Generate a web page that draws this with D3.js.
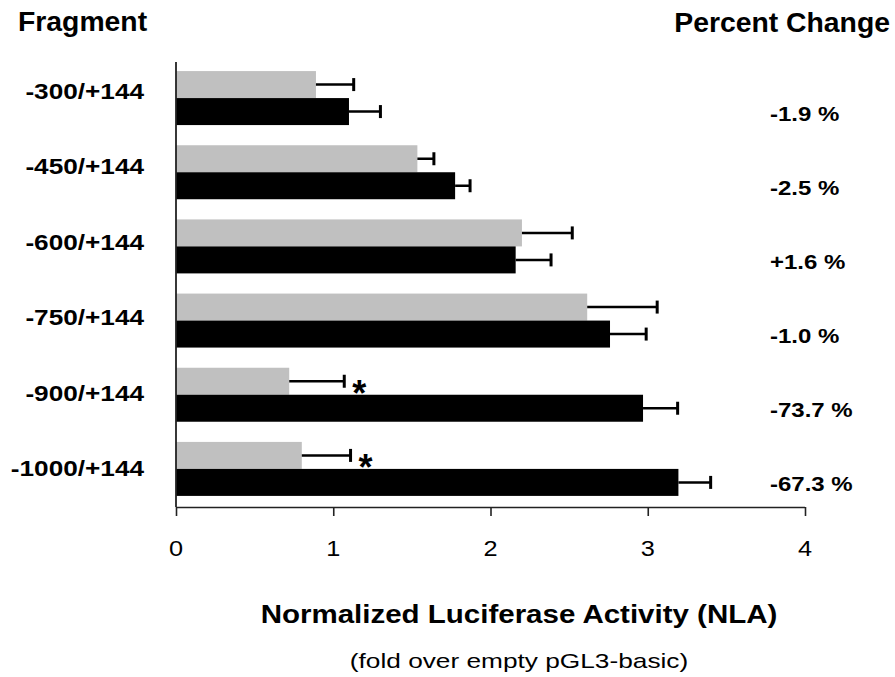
<!DOCTYPE html>
<html><head><meta charset="utf-8">
<script src="https://cdn.jsdelivr.net/npm/d3@7"></script>
<style>html,body{margin:0;padding:0;background:#fff;} svg{display:block;}</style>
</head><body>
<svg id="chart" width="895" height="677"></svg>
<script>
const fragments = ["-300/+144","-450/+144","-600/+144","-750/+144","-900/+144","-1000/+144"];
const grayValues = [0.89, 1.535, 2.20, 2.615, 0.72, 0.80];
const grayErrors = [0.24, 0.105, 0.32, 0.445, 0.35, 0.31];
const blackValues = [1.10, 1.775, 2.16, 2.76, 2.97, 3.195];
const blackErrors = [0.20, 0.095, 0.225, 0.23, 0.22, 0.205];
const percentChange = ["-1.9 %","-2.5 %","+1.6 %","-1.0 %","-73.7 %","-67.3 %"];
const significant = [false, false, false, false, true, true];
const xTicks = [0, 1, 2, 3, 4];

const svg = d3.select("#chart");
const FONT = "'Liberation Sans', Arial, sans-serif";

const x = d3.scaleLinear().domain([0, 4]).range([176, 805]);
const y = d3.scaleBand().domain(fragments).range([62, 507]).paddingInner(0.272).paddingOuter(0.136).align(0.45);
const sub = d3.scaleBand().domain(["gray","black"]).range([0, y.bandwidth()]);
const labelY = d3.scalePoint().domain(fragments).range([90.5, 468]);

function txt(g, px, py, s, o) {
  return g.append("text")
    .attr("transform", `translate(${px},${py}) scale(${o.sx||1},1)`)
    .attr("text-anchor", o.anchor || "start")
    .attr("font-family", FONT)
    .attr("font-size", o.size)
    .attr("font-weight", o.weight || "normal")
    .attr("fill", "#000")
    .text(s);
}

const rows = fragments.map((f, i) => ({f, i, g: grayValues[i], ge: grayErrors[i], b: blackValues[i], be: blackErrors[i], pc: percentChange[i], sig: significant[i]}));

// bars
const grp = svg.append("g");
grp.selectAll("rect.gray").data(rows).join("rect")
  .attr("x", x(0)).attr("y", d => y(d.f) + sub("gray"))
  .attr("width", d => x(d.g) - x(0)).attr("height", sub.bandwidth())
  .attr("fill", "#c0c0c0");
grp.selectAll("rect.black").data(rows).join("rect")
  .attr("x", x(0)).attr("y", d => y(d.f) + sub("black"))
  .attr("width", d => x(d.b) - x(0)).attr("height", sub.bandwidth())
  .attr("fill", "#000");

// error bars
function errBars(key, vKey, eKey) {
  const cy = d => y(d.f) + sub(key) + sub.bandwidth() / 2;
  grp.selectAll(null).data(rows).join("line")
    .attr("x1", d => x(d[vKey])).attr("x2", d => x(d[vKey] + d[eKey]))
    .attr("y1", cy).attr("y2", cy)
    .attr("stroke", "#000").attr("stroke-width", 2.5);
  grp.selectAll(null).data(rows).join("line")
    .attr("x1", d => x(d[vKey] + d[eKey])).attr("x2", d => x(d[vKey] + d[eKey]))
    .attr("y1", d => cy(d) - 6.5).attr("y2", d => cy(d) + 6.5)
    .attr("stroke", "#000").attr("stroke-width", 3);
}
errBars("gray", "g", "ge");
errBars("black", "b", "be");

// asterisks
rows.filter(d => d.sig).forEach(d => {
  txt(svg, x(d.g + d.ge) + 15, y(d.f) + sub("gray") + sub.bandwidth() / 2 + 25, "*", {size: 36, weight: "bold", anchor: "middle"});
});

// axes
const xAxis = d3.axisBottom(x).tickValues(xTicks).tickSize(9).tickFormat("");
const ax = svg.append("g").attr("transform", `translate(0,507)`).call(xAxis);
ax.select(".domain").attr("stroke", "#222").attr("stroke-width", 1.6).attr("d", `M${x(0)},0.5H${x(4)}`);
ax.selectAll(".tick line").attr("stroke", "#222").attr("stroke-width", 1.6);
xTicks.forEach(t => txt(svg, x(t), 556, String(t), {size: 22, anchor: "middle", sx: 1.15}));

svg.append("line").attr("x1", x(0)).attr("x2", x(0)).attr("y1", 62).attr("y2", 507)
  .attr("stroke", "#222").attr("stroke-width", 1.8);

// category labels
rows.forEach(d => {
  txt(svg, 144, labelY(d.f) + 8, d.f, {size: 22, weight: "bold", anchor: "end", sx: 1.19});
  txt(svg, 770, y(d.f) + sub("black") + sub.bandwidth() / 2 + 9, d.pc, {size: 20, weight: "bold", sx: 1.2});
});

// headers
txt(svg, 18, 31, "Fragment", {size: 27, weight: "bold", sx: 1.05});
txt(svg, 890, 32, "Percent Change", {size: 27, weight: "bold", anchor: "end", sx: 1.05});

// titles
txt(svg, 519, 623, "Normalized Luciferase Activity (NLA)", {size: 25, weight: "bold", anchor: "middle", sx: 1.18});
txt(svg, 519, 668, "(fold over empty pGL3-basic)", {size: 21, anchor: "middle", sx: 1.25});
</script>
</body></html>
